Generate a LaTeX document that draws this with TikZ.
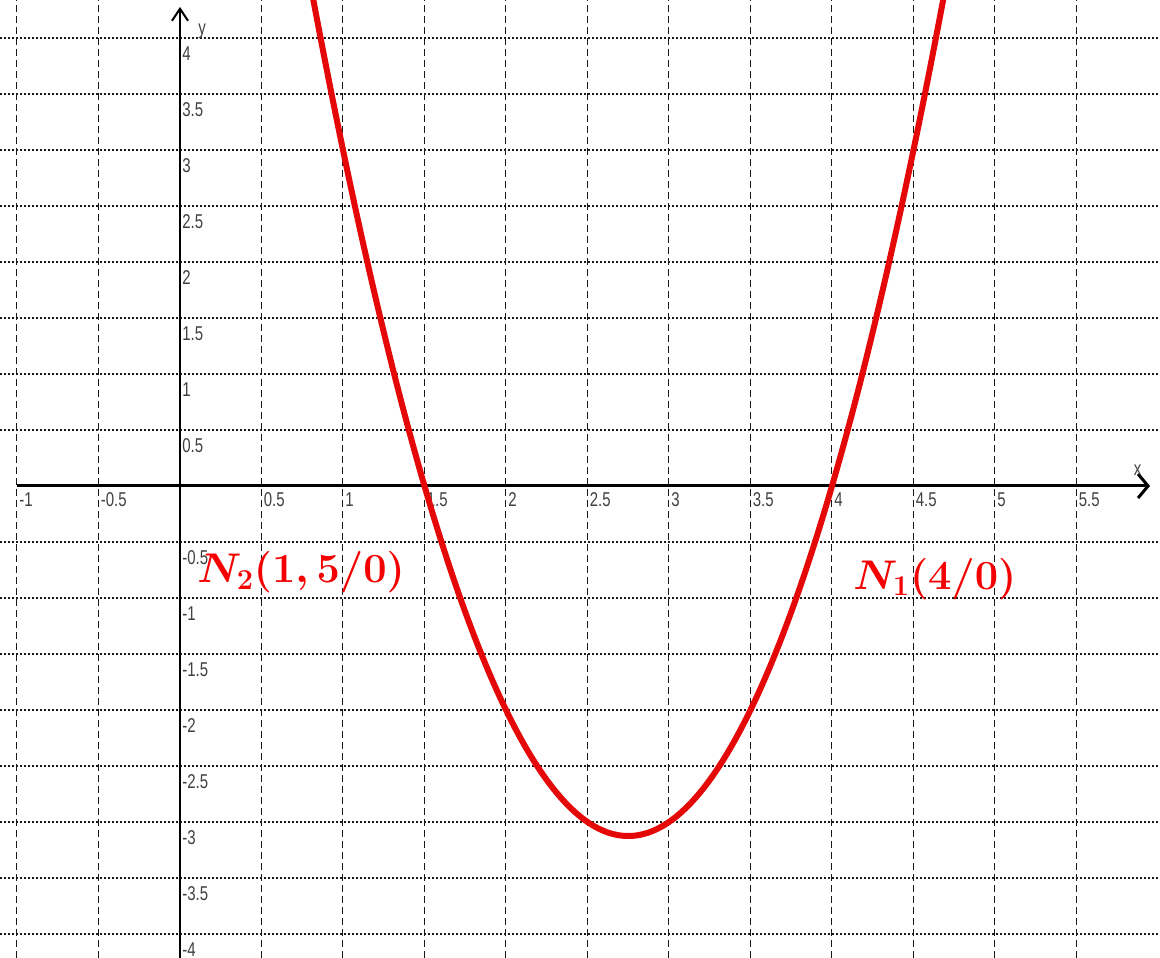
\documentclass[tikz,border=0pt]{standalone}
\usepackage{fontspec}
\usepackage{amsmath}
\newfontfamily\tickfont[FakeStretch=0.75]{Liberation Sans}
\usetikzlibrary{arrows.meta}
\definecolor{curvered}{RGB}{228,8,8}
\definecolor{labelred}{RGB}{245,0,0}
\newcommand{\ptfont}{\fontsize{22.5}{26}\selectfont\boldmath}
\begin{document}
\begin{tikzpicture}[x=81.5pt,y=56pt,
  hgrid/.style={black!90, line width=0.55pt, dash pattern=on 1pt off 1pt},
  vgrid/.style={black!90, line width=0.5pt, dash pattern=on 3.5pt off 2pt},
  ticklab/.style={font=\tickfont\fontsize{10}{10}\selectfont, text=black!75, inner sep=0pt},
  axisline/.style={black},
  ptlabel/.style={text=labelred, font=\ptfont, inner sep=0pt, anchor=base west}]
\useasboundingbox (-1.1043,-4.2143) rectangle (6.0123,4.3393);
% grid
\foreach \y in {-4,-3.5,-3,-2.5,-2,-1.5,-1,-0.5,0.5,1,1.5,2,2.5,3,3.5,4}
  \draw[hgrid] (-1.1043,\y) -- (6.0123,\y);
\foreach \x in {-1,-0.5,0.5,1,1.5,2,2.5,3,3.5,4,4.5,5,5.5}
  \draw[vgrid] (\x,-4.2143) -- (\x,4.3393);
% axes
\coordinate (xs) at (-1,0);
\coordinate (xe) at (5.951,0);
\coordinate (ys) at (0,-4.2143);
\coordinate (ye) at (0,4.277);
\draw[axisline, line width=1.5pt, -{Straight Barb[length=5pt,width=12pt]}] (xs) -- (xe);
\draw[axisline, line width=1pt, -{Straight Barb[length=6pt,width=8pt]}] (ys) -- (ye);
\node[ticklab, anchor=south west] (xlab) at (5.85,0.09) {x};
\node[ticklab, anchor=south west] (ylab) at (0.11,3.99) {y};
% tick labels
\foreach \x [count=\i] in {-1,-0.5,0.5,1,1.5,2,2.5,3,3.5,4,4.5,5,5.5}
  \node[ticklab, anchor=north west] (xl\i) at (\x+0.012,-0.054) {\x};
\foreach \y [count=\i] in {4,3.5,3,2.5,2,1.5,1,0.5,-0.5,-1,-1.5,-2,-2.5,-3,-3.5,-4}
  \node[ticklab, anchor=north west] (yl\i) at (0.012,\y-0.071) {\y};
% curve
\begin{scope}
  \clip (-1.1043,-4.2143) rectangle (6.0123,4.3393);
  \draw[curvered, line width=3pt] plot[domain=0.75:4.75, samples=120, smooth] (\x,{2*\x*\x-11*\x+12});
\end{scope}
% point labels
\node[ptlabel] (n2) at (0.104,-0.866) {$N_{2}(1,5/0)$};
\node[ptlabel] (n1) at (4.129,-0.92) {$N_{1}(4/0)$};
\end{tikzpicture}
\end{document}
